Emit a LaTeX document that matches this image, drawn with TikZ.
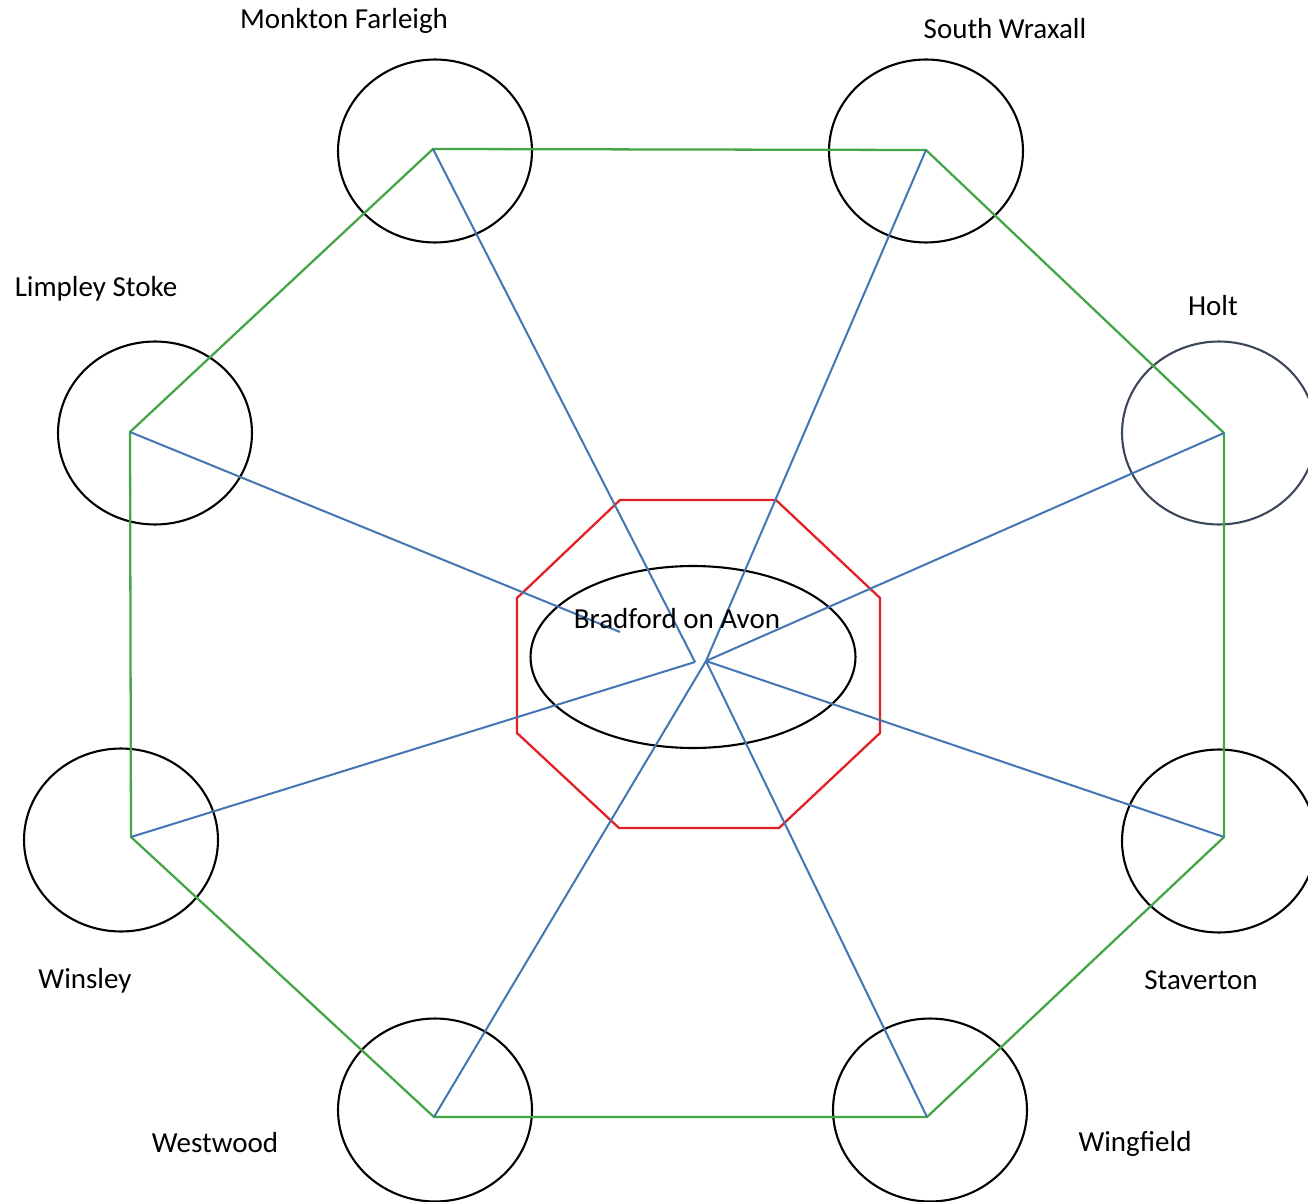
\documentclass[tikz,border=0pt]{standalone}
\usepackage{fontspec}
\setmainfont{Carlito}
\usetikzlibrary{shapes.geometric}
\definecolor{ringgreen}{RGB}{70,165,70}
\definecolor{spokeblue}{RGB}{68,118,180}
\definecolor{hubred}{RGB}{226,32,38}
\definecolor{holtgrey}{RGB}{60,72,90}
\tikzset{
  town/.style={draw=black, line width=1.2pt, ellipse, inner sep=0pt,
    minimum width=3.88cm, minimum height=3.66cm},
  place/.style={anchor=base, text=black, font=\fontsize{16.5}{19}\selectfont},
  ring/.style={draw=ringgreen, line width=1.3pt},
  spoke/.style={draw=spokeblue, line width=1.15pt},
}
\begin{document}
\begin{tikzpicture}[x=0.02cm, y=-0.02cm]
    \useasboundingbox (0,0) rectangle (1308,1202);

    % circles round the villages
    \node[town] (monkton) at (435,151) {};
    \node[town] (wraxall) at (926,151) {};
    \node[town] (limpley) at (155,433) {};
    \node[town, draw=holtgrey] (holt) at (1219,433) {};
    \node[town] (winsley) at (121,840) {};
    \node[town] (staverton) at (1219,841) {};
    \node[town] (westwood) at (435,1110) {};
    \node[town] (wingfield) at (930,1110) {};
    \node[draw=black, line width=1.2pt, ellipse, inner sep=0pt,
      minimum width=6.5cm, minimum height=3.64cm] (bradford) at (693,657) {};

    % corners of the outer ring
    \coordinate (mf) at (433,149);
    \coordinate (sw) at (926,150);
    \coordinate (ho) at (1224,433);
    \coordinate (st) at (1224,837);
    \coordinate (wi) at (927,1117);
    \coordinate (we) at (434,1117);
    \coordinate (ws) at (131,837);
    \coordinate (ls) at (130,432);

    % where the spokes end
    \coordinate (hubl) at (695,662);
    \coordinate (hubr) at (706,661);
    \coordinate (hubt) at (620,632);

    \draw[hubred, line width=1.3pt] (620,500) -- (776,500) -- (880,598) -- (880,733)
        -- (779,828) -- (619,828) -- (517,733) -- (517,598) -- cycle;

    \draw[ring] (mf) -- (sw) -- (ho) -- (st) -- (wi) -- (we) -- (ws) -- (ls) -- cycle;

    \draw[spoke] (mf) -- (hubl);
    \draw[spoke] (ws) -- (hubl);
    \draw[spoke] (ls) -- (hubt);
    \foreach \c in {sw,ho,st,wi,we}
        \draw[spoke] (\c) -- (hubr);

    % names
    \node[place] (lmonkton) at (344,29) {Monkton Farleigh};
    \node[place] (lwraxall) at (1005,39) {South Wraxall};
    \node[place] (llimpley) at (96,297) {Limpley Stoke};
    \node[place] (lholt) at (1213,316) {Holt};
    \node[place] (lbradford) at (677,628) {Bradford on Avon};
    \node[place] (lwinsley) at (85,988) {Winsley};
    \node[place] (lstaverton) at (1201,989) {Staverton};
    \node[place] (lwestwood) at (215,1152) {Westwood};
    \node[place] (lwingfield) at (1135,1151) {Wingfield};
\end{tikzpicture}
\end{document}
